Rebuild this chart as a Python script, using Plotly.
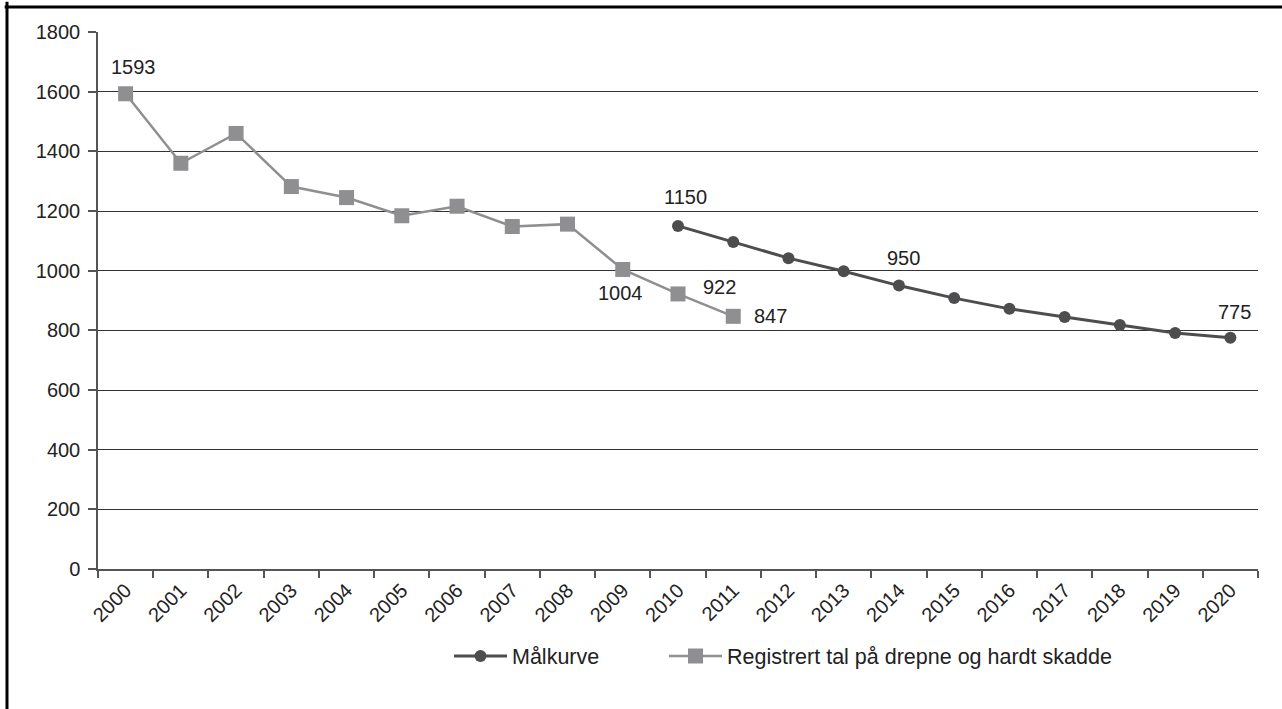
import plotly.graph_objects as go

# Years on the category axis
years = [str(y) for y in range(2000, 2021)]

# Registered number of killed and seriously injured (2000-2011)
reg_years = [str(y) for y in range(2000, 2012)]
reg_values = [1593, 1360, 1460, 1282, 1245, 1184, 1216, 1148, 1156, 1004, 922, 847]

# Target curve (2010-2020)
goal_years = [str(y) for y in range(2010, 2021)]
goal_values = [1150, 1096, 1042, 998, 950, 908, 872, 845, 818, 791, 775]

y_ticks = [0, 200, 400, 600, 800, 1000, 1200, 1400, 1600, 1800]

FONT = "Liberation Sans, Arial, sans-serif"
TXT = "#222222"

fig = go.Figure()

fig.add_trace(go.Scatter(
    x=goal_years, y=goal_values, name="Målkurve",
    mode="lines+markers",
    line=dict(color="#4d4d4f", width=3),
    marker=dict(symbol="circle", size=12, color="#4d4d4f"),
    legend="legend",
))

fig.add_trace(go.Scatter(
    x=reg_years, y=reg_values, name="Registrert tal på drepne og hardt skadde",
    mode="lines+markers",
    line=dict(color="#8f8f91", width=2.5),
    marker=dict(symbol="square", size=15, color="#8f8f91"),
    legend="legend2",
))

# Value labels: (series years, series values, index, xshift, yshift)
label_specs = [
    (reg_years, reg_values, 0, 8, 27),
    (reg_years, reg_values, 9, -2, -24),
    (reg_years, reg_values, 10, 41, 7),
    (reg_years, reg_values, 11, 37, 0),
    (goal_years, goal_values, 0, 7, 29),
    (goal_years, goal_values, 4, 5, 28),
    (goal_years, goal_values, 10, 4, 26),
]
for xs, ys, i, dx, dy in label_specs:
    # annotations on a category axis are placed by category index
    fig.add_annotation(
        x=years.index(xs[i]), y=ys[i], text=str(ys[i]), showarrow=False,
        xshift=dx, yshift=dy,
        font=dict(family=FONT, size=20, color=TXT),
    )

# Frame on the left and top edges of the chart
L, R, T, B = 98, 24, 32, 140
W, H = 1282 - L - R, 709 - T - B
fx = (7 - L) / W
fy = 1 + (T - 7) / H
fig.add_shape(type="line", xref="paper", yref="paper",
              x0=fx, x1=fx, y0=fy + 0.01, y1=-(B + 10) / H,
              line=dict(color="black", width=3))
fig.add_shape(type="line", xref="paper", yref="paper",
              x0=fx - 0.002, x1=1 + (R + 10) / W, y0=fy, y1=fy,
              line=dict(color="black", width=3))

legend_common = dict(
    orientation="h", xanchor="left",
    y=-(656 - 569) / H, yanchor="middle",
    font=dict(family=FONT, size=21.5, color=TXT),
    itemwidth=53, bgcolor="rgba(0,0,0,0)",
)

fig.update_layout(
    width=1282, height=709,
    margin=dict(l=L, r=R, t=T, b=B),
    paper_bgcolor="white", plot_bgcolor="white",
    font=dict(family=FONT, size=20, color=TXT),
    showlegend=True,
    legend=dict(x=(449 - L) / W, **legend_common),
    legend2=dict(x=(664 - L) / W, **legend_common),
)

fig.update_xaxes(
    type="category", categoryorder="array", categoryarray=years,
    range=[-0.5, len(years) - 0.5],
    tickvals=years, ticktext=years,
    tickson="boundaries", ticks="outside", ticklen=7,
    tickcolor="#555555", tickwidth=1.5,
    tickangle=-45,
    showline=True, linecolor="#555555", linewidth=1.5,
    showgrid=False, zeroline=False,
    tickfont=dict(family=FONT, size=20, color=TXT),
)

fig.update_yaxes(
    range=[0, 1800], tickvals=y_ticks,
    ticks="outside", ticklen=8, tickcolor="#555555", tickwidth=1.5,
    ticklabelstandoff=4,
    showline=True, linecolor="#555555", linewidth=1.5,
    showgrid=True, gridcolor="#333333", gridwidth=1.4,
    zeroline=False,
    tickfont=dict(family=FONT, size=20, color=TXT),
)

fig.write_html("out.html")
